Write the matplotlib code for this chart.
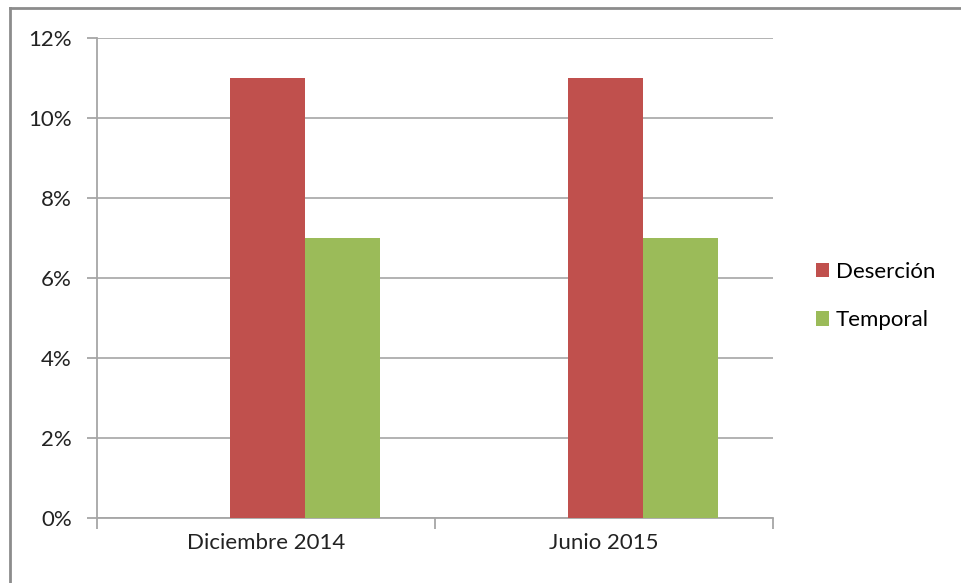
import matplotlib.pyplot as plt
import numpy as np
from matplotlib.lines import Line2D
from matplotlib.ticker import FuncFormatter

# data
categories = ['Diciembre 2014', 'Junio 2015']
desercion = [0.11, 0.11]
temporal = [0.07, 0.07]
yticks = [0, 0.02, 0.04, 0.06, 0.08, 0.10, 0.12]

red = '#C0504D'
green = '#9BBB59'
gray = '#A6A6A6'

plt.rcParams['font.family'] = ['Lato', 'DejaVu Sans']

fig = plt.figure(figsize=(9.61, 5.83), dpi=100)
ax = fig.add_axes([97 / 961, 65 / 583, 676 / 961, 480 / 583])

x = np.arange(len(categories))
w = 0.222
# the original group had three slots, the first one empty
b1 = ax.bar(x + 0.005, desercion, w, color=red, label='Deserción', zorder=3)
b2 = ax.bar(x + 0.005 + w, temporal, w, color=green, label='Temporal', zorder=3)

ax.set_xlim(-0.5, len(categories) - 0.5)
ax.set_ylim(0, 0.12)
ax.set_yticks(yticks)
ax.yaxis.set_major_formatter(FuncFormatter(lambda v, p: f'{v * 100:.0f}%'))
ax.set_xticks(x)
ax.set_xticklabels(categories)
ax.set_xticks(np.arange(-0.5, len(categories)), minor=True)
ax.tick_params(axis='x', which='major', length=0, pad=11, labelsize=16, colors='#222222')
ax.tick_params(axis='x', which='minor', length=8, width=1.3, color=gray)
ax.tick_params(axis='y', length=7, width=1.3, labelsize=16, pad=11, colors='#222222')
ax.tick_params(axis='y', color=gray)

ax.grid(axis='y', color=gray, linewidth=1.2, zorder=0)
for s in ['top', 'right']:
    ax.spines[s].set_visible(False)
for s in ['left', 'bottom']:
    ax.spines[s].set_color(gray)
    ax.spines[s].set_linewidth(1.3)

fig.legend(handles=[b1, b2], loc='center left', bbox_to_anchor=(0.828, 0.492),
           frameon=False, fontsize=16, handlelength=0.6, handleheight=0.6,
           handletextpad=0.3, labelspacing=1.28)

# outer chart frame
fig.add_artist(Line2D([10 / 961, 10 / 961], [0, 1 - 8 / 583], color='#8C8C8C', lw=2,
                      transform=fig.transFigure))
fig.add_artist(Line2D([10 / 961, 1], [1 - 8 / 583, 1 - 8 / 583], color='#8C8C8C', lw=2,
                      transform=fig.transFigure))

fig.savefig('out.png', dpi=100)
